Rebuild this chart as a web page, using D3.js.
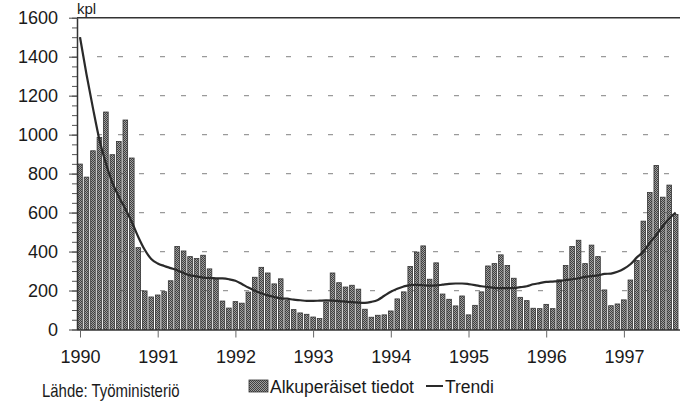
<!DOCTYPE html>
<html>
<head>
<meta charset="utf-8">
<script src="https://cdn.jsdelivr.net/npm/d3@7"></script>
<style>
body { margin: 0; background: #fff; }
svg { display: block; font-family: "Liberation Sans", Arial, sans-serif; }
</style>
</head>
<body>
<svg id="chart" width="680" height="401"></svg>
<script>
// monthly figures, Jan 1990 .. Sep 1997 (kpl)
const values = [
    849, 782, 917, 986, 1116, 897, 965, 1075, 880, 420, 198, 167,
    177, 194, 250, 426, 403, 374, 364, 381, 311, 258, 146, 110,
    143, 135, 192, 268, 319, 290, 234, 260, 148, 102, 85, 78,
    64, 56, 141, 290, 240, 218, 227, 207, 104, 63, 73, 75,
    95, 157, 193, 323, 397, 429, 258, 342, 182, 155, 121, 172,
    75, 124, 193, 326, 338, 383, 328, 263, 165, 148, 109, 107,
    129, 107, 255, 328, 426, 458, 338, 433, 374, 203, 122, 131,
    152, 254, 354, 556, 703, 842, 679, 741, 590
];
const trend = [
    1500, 1310, 1136, 974, 853, 753, 681, 619, 552, 475, 409, 362,
    339, 326, 315, 304, 290, 278, 273, 266, 264, 263, 262, 258,
    250, 233, 215, 199, 186, 175, 167, 160, 158, 153, 150, 147,
    147, 148, 149, 148, 146, 143, 140, 138, 137, 142, 152, 173,
    194, 209, 221, 228, 229, 227, 225, 226, 230, 234, 236, 236,
    233, 228, 222, 218, 214, 212, 212, 213, 217, 222, 232, 238,
    244, 246, 248, 254, 258, 263, 270, 274, 278, 285, 287, 296,
    312, 335, 370, 400, 445, 485, 530, 570, 600
];
const yearLabels = ["1990", "1991", "1992", "1993", "1994", "1995", "1996", "1997"];
const yTicks = [0, 200, 400, 600, 800, 1000, 1200, 1400, 1600];
const unitLabel = "kpl";
const sourceLabel = "Lähde: Työministeriö";
const seriesNames = ["Alkuperäiset tiedot", "Trendi"];

const svg = d3.select("#chart");
const axisX = 77, rightX = 680;

const x = d3.scaleLinear().domain([0, 92]).range([80, 80 + 92 * 6.475]);
const y = d3.scaleLinear().domain([0, 1600]).range([329.5, 17.7]);
const barW = 4.6;

// stipple fill for bars
const defs = svg.append("defs");
const pat = defs.append("pattern").attr("id", "dots")
    .attr("width", 2).attr("height", 2).attr("patternUnits", "userSpaceOnUse");
pat.append("rect").attr("width", 2).attr("height", 2).attr("fill", "#a0a0a0");
pat.append("rect").attr("width", 1).attr("height", 1).attr("fill", "#404040");
pat.append("rect").attr("x", 1).attr("y", 1).attr("width", 1).attr("height", 1).attr("fill", "#404040");

// dashed grid
svg.append("g").selectAll("line")
    .data(yTicks.filter(d => d > 0 && d < 1600))
    .enter().append("line")
        .attr("x1", axisX + 20).attr("x2", rightX)
        .attr("y1", d => y(d)).attr("y2", d => y(d))
        .attr("stroke", "#9a9a9a").attr("stroke-width", 1.3)
        .attr("stroke-dasharray", "5,16");

// frame top
svg.append("line").attr("x1", axisX).attr("x2", rightX)
    .attr("y1", y(1600)).attr("y2", y(1600))
    .attr("stroke", "#333").attr("stroke-width", 1.5);

// bars
svg.append("g").selectAll("rect")
    .data(values)
    .enter().append("rect")
        .attr("x", (d, i) => x(i) - barW / 2)
        .attr("y", d => y(d))
        .attr("width", barW)
        .attr("height", d => y(0) - y(d))
        .attr("fill", "url(#dots)")
        .attr("stroke", "#333").attr("stroke-width", 0.8);

// trend line
const line = d3.line()
    .x((d, i) => x(i))
    .y(d => y(d))
    .curve(d3.curveMonotoneX);
svg.append("path").datum(trend)
    .attr("d", line)
    .attr("fill", "none")
    .attr("stroke", "#2a2a2a").attr("stroke-width", 2.2);

// y axis, minor ticks first
svg.append("g").attr("transform", "translate(" + axisX + ",0)")
    .call(d3.axisLeft(y).tickValues(d3.range(0, 1601, 50)).tickSize(5).tickFormat(""))
    .call(g => g.select(".domain").remove())
    .call(g => g.selectAll("line").attr("stroke", "#555"));
const yAxis = svg.append("g").attr("transform", "translate(" + axisX + ",0)")
    .call(d3.axisLeft(y).tickValues(yTicks).tickFormat(d3.format("d"))
        .tickSize(8).tickPadding(11).tickSizeOuter(0));
yAxis.select(".domain").attr("stroke", "#333").attr("stroke-width", 1.5);
yAxis.selectAll("line").attr("stroke", "#444");
yAxis.selectAll("text").attr("font-size", 18).attr("fill", "#1a1a1a")
    .attr("font-family", "Liberation Sans, Arial, sans-serif");

// x axis
const xAxis = svg.append("g").attr("transform", "translate(0," + y(0) + ")")
    .call(d3.axisBottom(x).tickValues(d3.range(0, 85, 12))
        .tickFormat((d, i) => yearLabels[i]).tickSize(8).tickPadding(13).tickSizeOuter(0));
xAxis.select(".domain").attr("d", "M" + axisX + ",0.5H" + rightX).attr("stroke", "#333").attr("stroke-width", 1.5);
xAxis.selectAll("line").attr("stroke", "#666");
xAxis.selectAll("text").attr("font-size", 18).attr("fill", "#1a1a1a")
    .attr("font-family", "Liberation Sans, Arial, sans-serif");

// unit label
svg.append("text").attr("x", axisX).attr("y", 14)
    .attr("font-size", 15).attr("fill", "#1a1a1a").text(unitLabel);

// source (condensed face)
svg.append("text").attr("transform", "translate(42,397) scale(0.83,1)")
    .attr("font-size", 18).attr("fill", "#1a1a1a").text(sourceLabel);

// legend
const lg = svg.append("g");
lg.append("rect").attr("x", 249).attr("y", 380).attr("width", 19).attr("height", 12)
    .attr("fill", "url(#dots)").attr("stroke", "#333").attr("stroke-width", 0.8);
lg.append("text").attr("x", 270).attr("y", 393).attr("font-size", 17.5).attr("fill", "#1a1a1a")
    .text(seriesNames[0]);
lg.append("line").attr("x1", 426).attr("x2", 443).attr("y1", 386).attr("y2", 386)
    .attr("stroke", "#2a2a2a").attr("stroke-width", 2);
lg.append("text").attr("x", 445).attr("y", 393).attr("font-size", 17.5).attr("fill", "#1a1a1a")
    .text(seriesNames[1]);
</script>
</body>
</html>
